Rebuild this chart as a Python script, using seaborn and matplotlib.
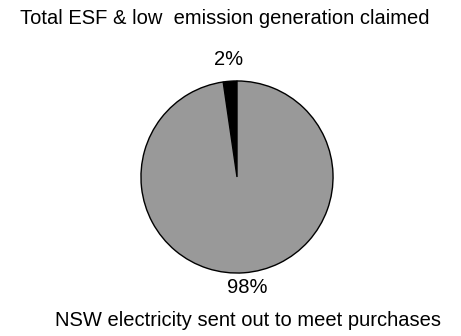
import matplotlib
matplotlib.use("Agg")
import matplotlib.pyplot as plt
import seaborn as sns

categories = ["Total ESF & low emission generation claimed",
              "NSW electricity sent out to meet purchases"]
shares = [2.3, 97.7]
slice_labels = ["2%", "98%"]
colors = ["#000000", "#999999"]

sns.set_theme(style="white")
plt.rcParams['font.family'] = ['Liberation Sans', 'DejaVu Sans']
plt.rcParams['text.color'] = 'black'

fig = plt.figure(figsize=(4.61, 3.36), dpi=100)
ax = fig.add_axes([140 / 461, 62 / 336, 194 / 461, 194 / 336])

wedges, texts = ax.pie(shares, labels=slice_labels, colors=colors,
                       startangle=90, counterclock=True,
                       labeldistance=1.23,
                       wedgeprops=dict(edgecolor="black", linewidth=1),
                       textprops=dict(fontsize=14.5, color="black"))
for t in texts:
    t.set_horizontalalignment("center")
    t.set_verticalalignment("center")
# the lower label sits a little closer to the pie in the original
x, y = texts[1].get_position()
texts[1].set_position((x + 0.02, -1.15))

ax.set_xlim(-1.01, 1.01)
ax.set_ylim(-1.01, 1.01)
ax.set_aspect("equal")
ax.axis("off")

fig.text(225 / 461, 1 - 19 / 336, "Total ESF & low  emission generation claimed",
         ha="center", va="center", fontsize=14.5, color="black")
fig.text(248 / 461, 1 - 321 / 336, categories[1],
         ha="center", va="center", fontsize=14.5, color="black")

fig.savefig("out.png", dpi=100)
